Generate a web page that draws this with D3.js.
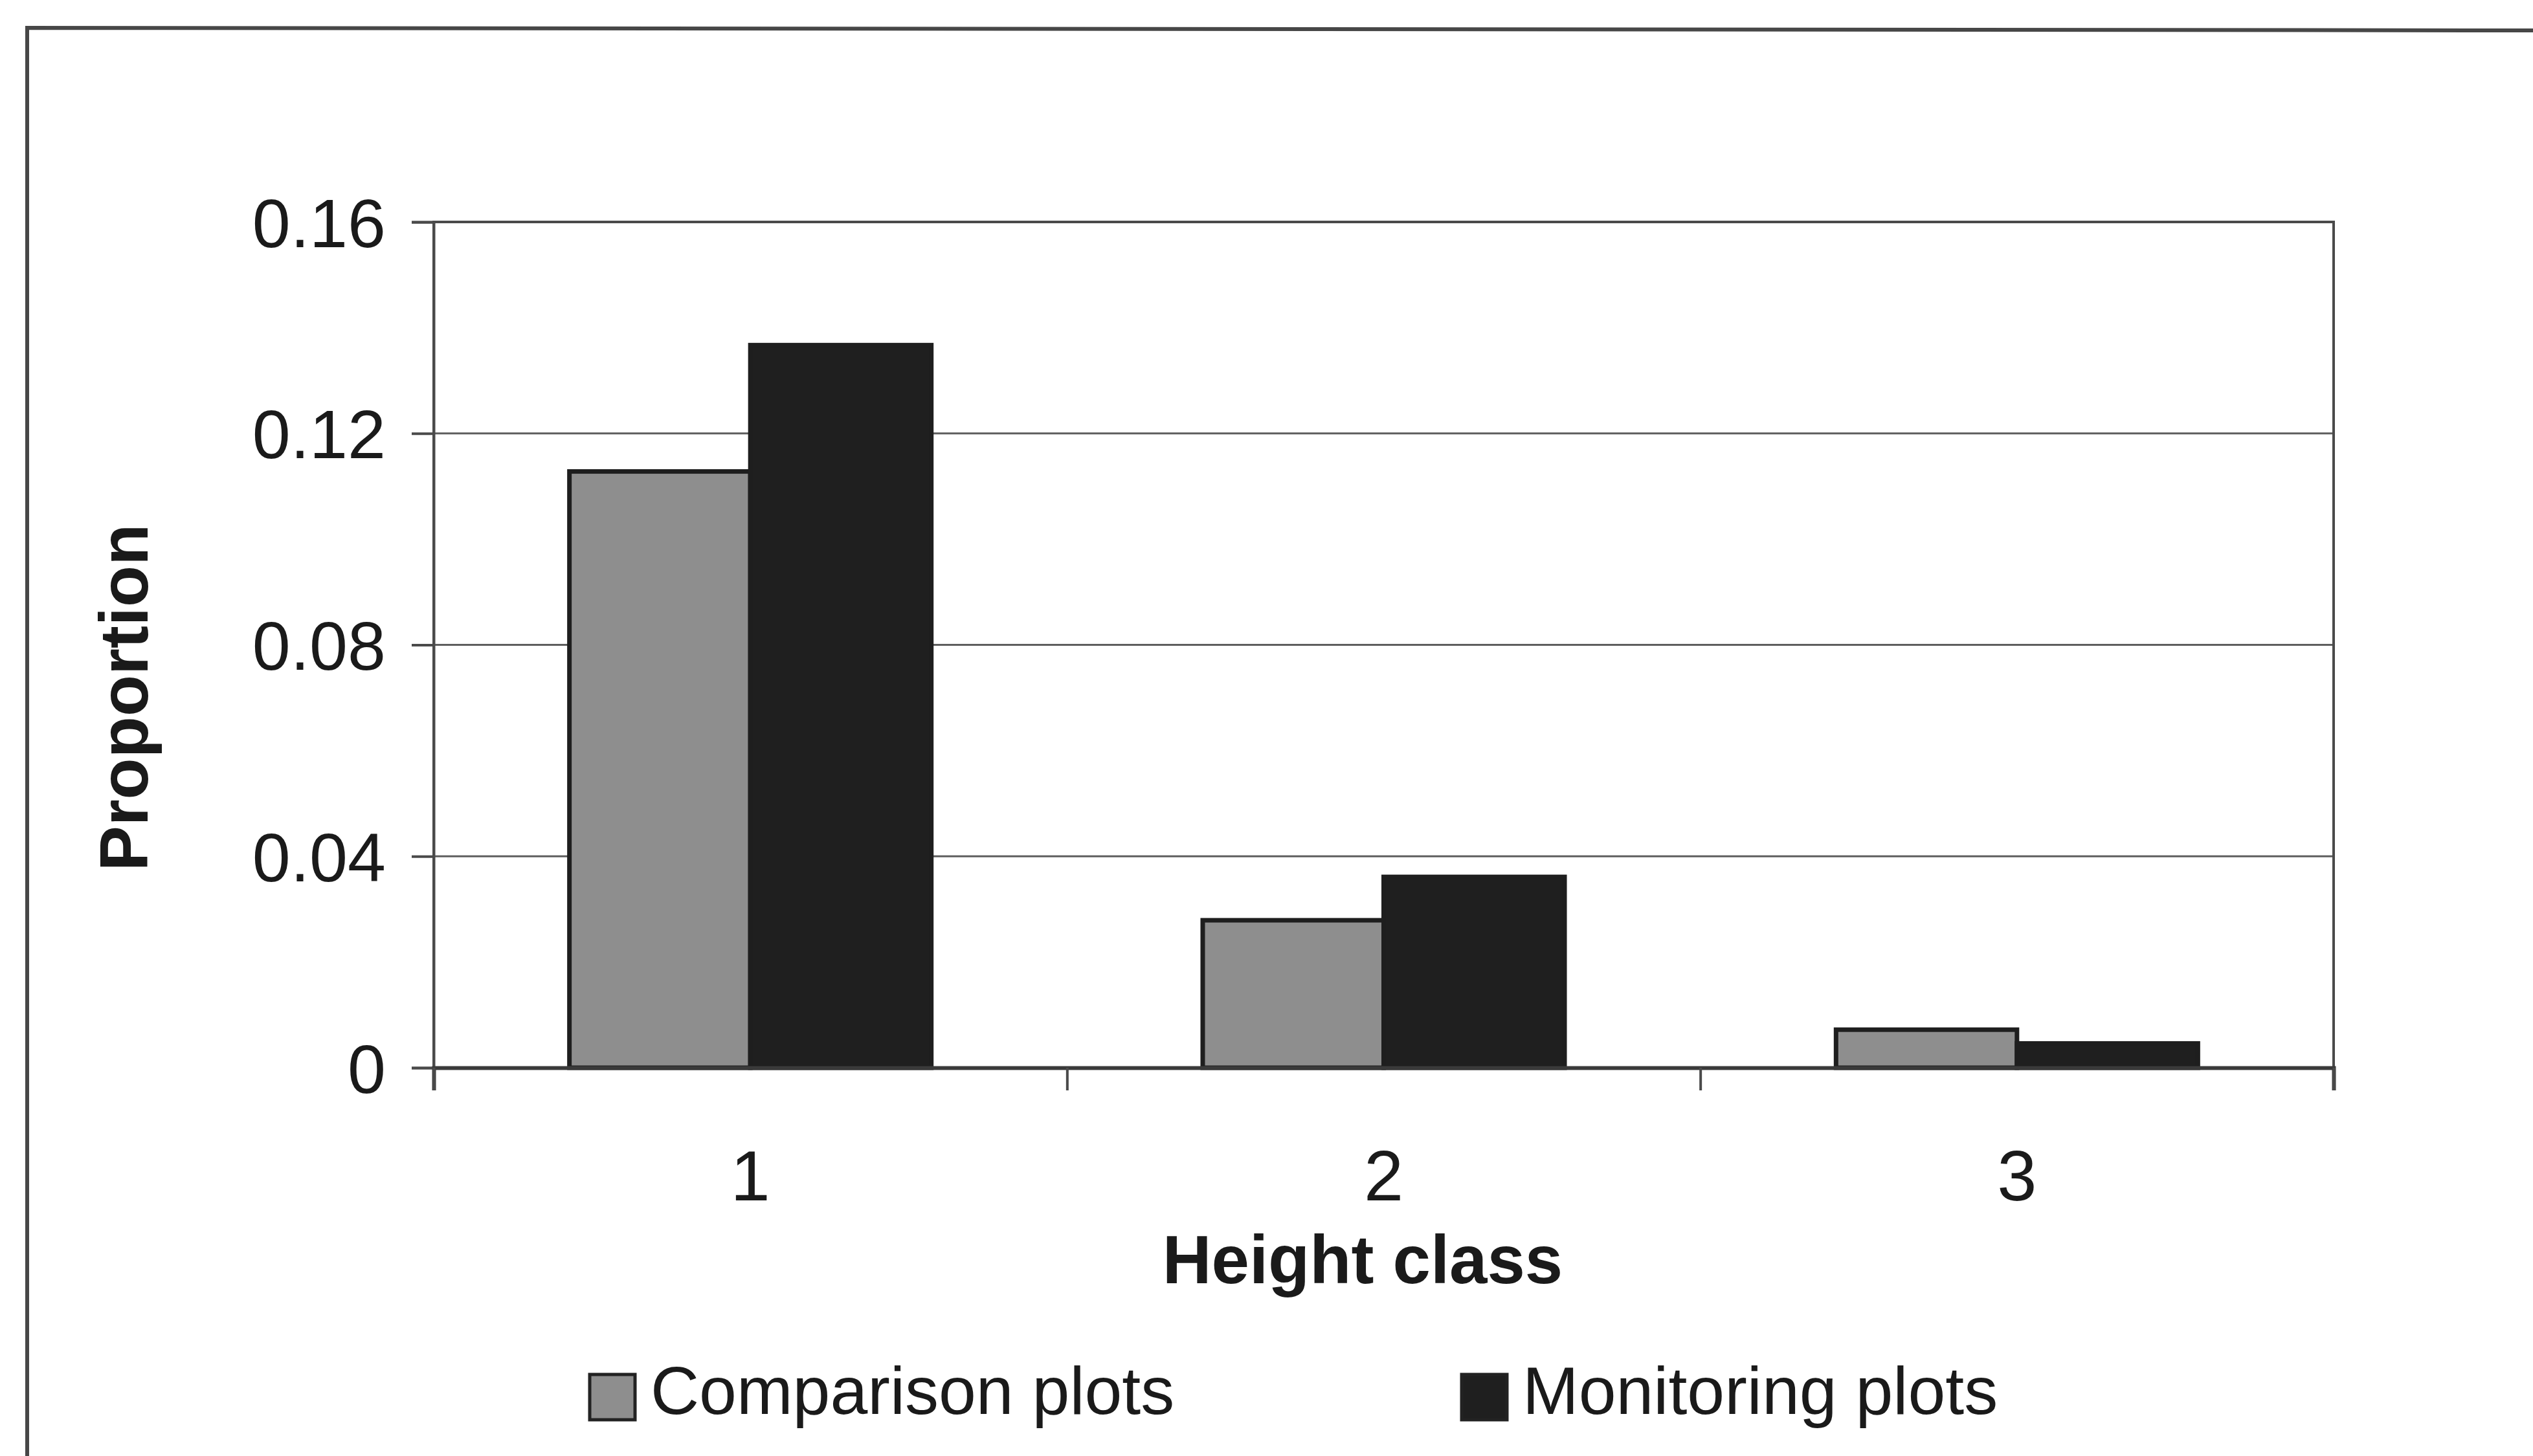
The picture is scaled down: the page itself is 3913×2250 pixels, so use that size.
<!DOCTYPE html>
<html>
<head>
<meta charset="utf-8">
<title>Proportion by height class</title>
<script src="https://cdn.jsdelivr.net/npm/d3@7"></script>
<style>
  html, body { margin: 0; padding: 0; background: #ffffff; }
  svg { display: block; }
  text { font-family: "Liberation Sans", Arial, sans-serif; fill: #1a1a1a; }
</style>
</head>
<body>
<script>
// Height classes along the x axis
const categories = ["1", "2", "3"];
// Series names as they appear in the legend
const seriesNames = ["Comparison plots", "Monitoring plots"];
// Proportion per height class, one array per series
const comparisonValues = [0.1128, 0.0279, 0.0072];
const monitoringValues = [0.1367, 0.0361, 0.0046];
// Y axis tick values
const yTicks = [0, 0.04, 0.08, 0.12, 0.16];

const W = 3913, H = 2250;
const plot = { left: 670, right: 3605, top: 343, bottom: 1650 };
const seriesColors = ["#8e8e8e", "#1f1f1f"];

const rows = categories.map((c, i) => ({
  cat: c,
  vals: [comparisonValues[i], monitoringValues[i]]
}));

const svg = d3.select("body").append("svg")
  .attr("width", W).attr("height", H);

// Outer chart-area frame (left and top edges visible)
svg.append("path")
  .attr("d", `M42,${H + 10} L42,43 L${W + 10},47`)
  .attr("fill", "none").attr("stroke", "#474747").attr("stroke-width", 6);

const x = d3.scaleBand().domain(categories).range([plot.left, plot.right]).padding(0);
const xs = d3.scaleBand().domain([0, 1]).range([0, x.bandwidth()])
  .paddingInner(0).paddingOuter(0.75);
const y = d3.scaleLinear().domain([0, 0.16]).range([plot.bottom, plot.top]);

// Horizontal gridlines
svg.append("g").selectAll("line")
  .data(yTicks.filter(t => t > 0 && t < 0.16))
  .join("line")
  .attr("x1", plot.left).attr("x2", plot.right)
  .attr("y1", d => y(d)).attr("y2", d => y(d))
  .attr("stroke", "#5e5e5e").attr("stroke-width", 3);

// Plot area border
svg.append("rect")
  .attr("x", plot.left).attr("y", plot.top)
  .attr("width", plot.right - plot.left).attr("height", plot.bottom - plot.top)
  .attr("fill", "none").attr("stroke", "#4a4a4a").attr("stroke-width", 4);

// Bars
const groups = svg.append("g").selectAll("g")
  .data(rows).join("g")
  .attr("transform", d => `translate(${x(d.cat)},0)`);

groups.selectAll("rect")
  .data(d => d.vals.map((v, k) => ({ v, k })))
  .join("rect")
  .attr("x", d => xs(d.k))
  .attr("width", xs.bandwidth())
  .attr("y", d => y(d.v))
  .attr("height", d => y(0) - y(d.v))
  .attr("fill", d => seriesColors[d.k])
  .attr("stroke", "#1e1e1e").attr("stroke-width", 7);

// Y axis
const yAxis = d3.axisLeft(y)
  .tickValues(yTicks)
  .tickSize(34)
  .tickPadding(40)
  .tickFormat(d => d === 0 ? "0" : d3.format(".2f")(d));

const gy = svg.append("g")
  .attr("transform", `translate(${plot.left},0)`)
  .call(yAxis);
gy.select(".domain").attr("stroke", "#4a4a4a").attr("stroke-width", 4);
gy.selectAll(".tick line").attr("stroke", "#4a4a4a").attr("stroke-width", 4);
gy.selectAll(".tick text")
  .attr("font-size", 106).attr("fill", "#1a1a1a")
  .attr("font-family", "'Liberation Sans', Arial, sans-serif")
  .attr("dy", "0.36em");

// X axis: tick marks on the category boundaries
const xEdge = d3.scaleLinear().domain([0, categories.length]).range([plot.left, plot.right]);
const gxt = svg.append("g")
  .attr("transform", `translate(0,${plot.bottom})`)
  .call(d3.axisBottom(xEdge).tickValues(d3.range(categories.length + 1)).tickSize(35).tickFormat(""));
gxt.select(".domain").attr("stroke", "#3a3a3a").attr("stroke-width", 6);
gxt.selectAll(".tick line").attr("stroke", "#4a4a4a").attr("stroke-width", 4);

// X axis: category labels centred under each group
const gxl = svg.append("g")
  .attr("transform", `translate(0,${plot.bottom})`)
  .call(d3.axisBottom(x).tickSize(0).tickPadding(205));
gxl.select(".domain").remove();
gxl.selectAll(".tick text")
  .attr("font-size", 110).attr("fill", "#1a1a1a")
  .attr("font-family", "'Liberation Sans', Arial, sans-serif")
  .attr("dy", 0);

// Axis titles
svg.append("text")
  .attr("x", 2105).attr("y", 1983)
  .attr("text-anchor", "middle")
  .attr("font-size", 105).attr("font-weight", "bold")
  .text("Height class");

svg.append("text")
  .attr("transform", "translate(228,1078) rotate(-90)")
  .attr("text-anchor", "middle")
  .attr("font-size", 105).attr("font-weight", "bold")
  .text("Proportion");

// Legend
const legendX = [911, 2258];
const legend = svg.append("g").selectAll("g")
  .data(seriesNames).join("g")
  .attr("transform", (d, i) => `translate(${legendX[i]},0)`);
legend.append("rect")
  .attr("x", 0).attr("y", 2124)
  .attr("width", 70).attr("height", 70)
  .attr("fill", (d, i) => seriesColors[i])
  .attr("stroke", "#222222").attr("stroke-width", 5);
legend.append("text")
  .attr("x", 94).attr("y", 2185)
  .attr("font-size", 104)
  .text(d => d);
</script>
</body>
</html>
